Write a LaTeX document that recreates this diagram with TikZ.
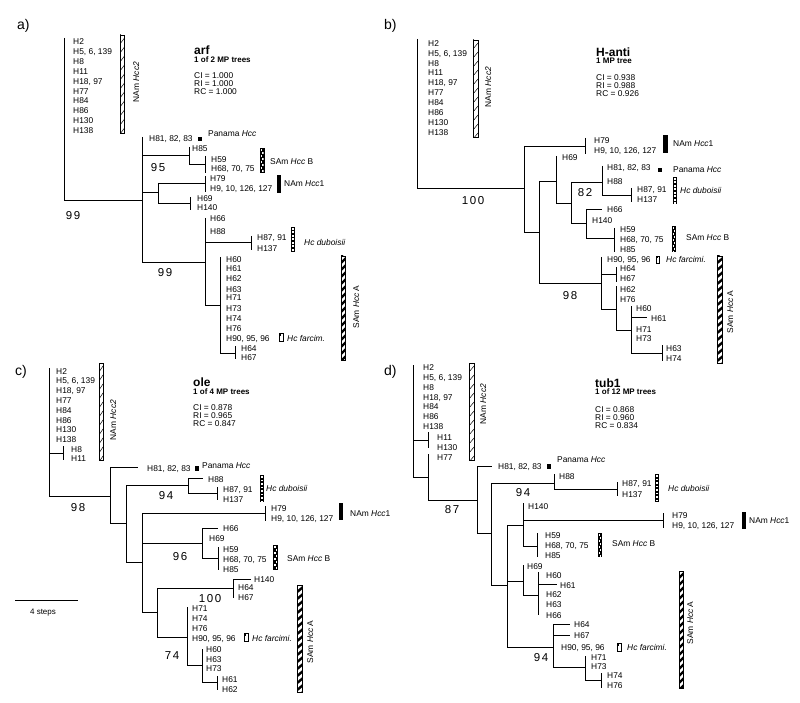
\documentclass[tikz,border=0pt]{standalone}
\usepackage{fontspec}
\setmainfont{Liberation Sans}
\newfontfamily\bsfont[LetterSpace=14]{Liberation Sans}
\newcommand\tx[4][lab]{\node[#1] (#2) at (#3) {#4};}
\newcommand\barthin[4]{%
 \begin{scope}
 \clip (#1,#2) rectangle (#3,#4);
 \foreach \d in {0,9,...,180} {\draw[line width=0.5pt] (#1,#2+\d) -- (#3,#2+\d-6);}
 \end{scope}
 \draw[line width=0.6pt] (#1,#2) rectangle (#3,#4);}
\newcommand\barthick[4]{%
 \begin{scope}
 \clip (#1,#2) rectangle (#3,#4);
 \foreach \d in {0,7,...,140} {\draw[line width=2.4pt] (#1-1,#2+\d+1) -- (#3+1,#2+\d-5);}
 \end{scope}
 \draw[line width=0.6pt] (#1,#2) rectangle (#3,#4);}
\newcommand\barcheck[4]{%
 \fill (#1,#2) rectangle (#3,#4);
 \begin{scope}
 \clip (#1+0.8,#2+0.8) rectangle (#3-0.8,#4-0.8);
 \foreach \d in {0,6,...,36} {\fill[white] (#1+0.8,#2+\d+1) rectangle ({(#1+#3)/2},#2+\d+3.2);
   \fill[white] ({(#1+#3)/2},#2+\d+4) rectangle (#3-0.8,#2+\d+6.2);}
 \end{scope}}
\newcommand\barladder[4]{%
 \fill (#1,#2) rectangle (#3,#4);
 \begin{scope}
 \clip (#1,#2) rectangle (#3,#4);
 \foreach \d in {0,3.5,...,35} {\fill[white] (#1+1,#2+\d+1) rectangle (#3-1,#2+\d+2.6);}
 \end{scope}}
\newcommand\barsolid[4]{\fill (#1,#2) rectangle (#3,#4);}
\newcommand\barfarc[4]{\draw[line width=0.6pt,fill=white] (#1,#2) rectangle (#3,#4);
 \fill (#1+0.8,#2+1) rectangle (#1+1.8,#2+2.5);}
\begin{document}
\begin{tikzpicture}[x=1pt,y=-1pt,
 br/.style={line width=0.7pt},
 lab/.style={font=\fontsize{8.4}{9}\selectfont, anchor=west, inner sep=0pt, text height=6pt, text depth=0pt},
 rlab/.style={lab, rotate=90, anchor=center},
 ttl/.style={font=\bfseries\fontsize{12}{12}\selectfont, anchor=west, inner sep=0pt, text height=8.6pt, text depth=0pt},
 sub/.style={font=\bfseries\fontsize{8}{8}\selectfont, anchor=west, inner sep=0pt, text height=5.7pt, text depth=0pt},
 stat/.style={lab},
 bs/.style={font=\bsfont\fontsize{11.5}{12}\selectfont, anchor=center, inner sep=0pt, text height=8.2pt, text depth=0pt},
 pl/.style={font=\fontsize{14}{14}\selectfont, anchor=west, inner sep=0pt, text height=10pt, text depth=0pt}]
\useasboundingbox (0,0) rectangle (800,703);
\fill[white] (0,0) rectangle (800,703);

%%%%%%%%%%%%%%%% panel a
\tx[pl]{pa}{17,25}{a)}
\draw[br] (64,38) -- (64,200) -- (142,200);
\draw[br] (142,137) -- (142,262);
\draw[br] (142,155) -- (189,155);
\draw[br] (189,147) -- (189,164) -- (205,164);
\draw[br] (205,156) -- (205,173);
\draw[br] (142,192) -- (158,192);
\draw[br] (158,183) -- (158,203) -- (190,203);
\draw[br] (158,183) -- (205,183);
\draw[br] (205,176) -- (205,192);
\draw[br] (190,197) -- (190,210);
\draw[br] (142,262) -- (205,262);
\draw[br] (205,218) -- (205,305) -- (220,305);
\draw[br] (205,242) -- (251,242);
\draw[br] (251,236) -- (251,250);
\draw[br] (220,257) -- (220,353) -- (235,353);
\draw[br] (235,346) -- (235,359);

\tx{a1}{73,42}{H2}
\tx{a2}{73,52}{H5, 6, 139}
\tx{a3}{73,62}{H8}
\tx{a4}{73,72}{H11}
\tx{a5}{73,82}{H18, 97}
\tx{a6}{73,92}{H77}
\tx{a7}{73,101}{H84}
\tx{a8}{73,111}{H86}
\tx{a9}{73,121}{H130}
\tx{a10}{73,131}{H138}
\barthin{120}{35}{124.5}{133}
\tx[rlab]{aNA2}{136,82}{NAm \textit{Hcc2}}
\tx[ttl]{aT}{194,50}{arf}
\tx[sub]{aT2}{194,60}{1 of 2 MP trees}
\tx{aCI}{194,76}{CI = 1.000}
\tx{aRI}{194,84}{RI = 1.000}
\tx{aRC}{194,92}{RC = 1.000}
\tx{a11}{149,139}{H81, 82, 83}
\barsolid{198}{137}{202}{141}
\tx{aPan}{208,134}{Panama \textit{Hcc}}
\tx{a12}{192,149}{H85}
\tx{a13}{211,160}{H59}
\tx{a14}{211,169}{H68, 70, 75}
\tx[bs]{ab95}{158,167}{95}
\barcheck{260}{148}{264.5}{173}
\tx{aSB}{270,162}{SAm \textit{Hcc} B}
\tx{a15}{210,179}{H79}
\tx{a16}{210,189}{H9, 10, 126, 127}
\barsolid{277}{175}{281}{193}
\tx{aNA1}{284,184}{NAm \textit{Hcc}1}
\tx{a17}{197,199}{H69}
\tx{a18}{197,208}{H140}
\tx[bs]{ab99a}{73,215}{99}
\tx{a19}{210,219}{H66}
\tx{a20}{210,232}{H88}
\tx{a21}{257,238}{H87, 91}
\tx{a22}{257,249}{H137}
\barladder{291}{227}{295}{252}
\tx{aDub}{304,243}{\textit{Hc duboisii}}
\tx[bs]{ab99b}{165,272}{99}
\tx{a23}{226,259}{H60}
\tx{a24}{226,269}{H61}
\tx{a25}{226,279}{H62}
\tx{a26}{226,289}{H63}
\tx{a27}{226,298}{H71}
\tx{a28}{226,308}{H73}
\tx{a29}{226,318}{H74}
\tx{a30}{226,328}{H76}
\tx{a31}{226,338}{H90, 95, 96}
\tx{a32}{241,348}{H64}
\tx{a33}{241,357}{H67}
\barfarc{279}{333}{283}{341}
\tx{aFar}{287,338}{\textit{Hc farcim.}}
\barthick{341}{256}{345}{360}
\tx[rlab]{aSA}{356,307}{SAm \textit{Hcc} A}

%%%%%%%%%%%%%%%% panel b
\tx[pl]{pb}{384,25}{b)}
\draw[br] (417,39) -- (417,188) -- (524,188);
\draw[br] (524,146) -- (524,232) -- (539,232);
\draw[br] (524,146) -- (585,146);
\draw[br] (585,138) -- (585,154);
\draw[br] (539,181) -- (539,283) -- (601,283);
\draw[br] (539,181) -- (556,181);
\draw[br] (556,156) -- (556,203) -- (571,203);
\draw[br] (571,182) -- (571,223) -- (586,223);
\draw[br] (571,182) -- (602,182);
\draw[br] (602,166) -- (602,195) -- (631,195);
\draw[br] (631,188) -- (631,202);
\draw[br] (586,209) -- (586,238) -- (614,238);
\draw[br] (586,209) -- (602,209);
\draw[br] (614,228) -- (614,252);
\draw[br] (601,257) -- (601,309) -- (616,309);
\draw[br] (601,274) -- (616,274);
\draw[br] (616,267) -- (616,282);
\draw[br] (616,286) -- (616,330) -- (631,330);
\draw[br] (631,306) -- (631,353) -- (662,353);
\draw[br] (631,317) -- (647,317);
\draw[br] (662,345) -- (662,361);

\tx{b1}{428,44}{H2}
\tx{b2}{428,54}{H5, 6, 139}
\tx{b3}{428,64}{H8}
\tx{b4}{428,73}{H11}
\tx{b5}{428,83}{H18, 97}
\tx{b6}{428,93}{H77}
\tx{b7}{428,103}{H84}
\tx{b8}{428,113}{H86}
\tx{b9}{428,123}{H130}
\tx{b10}{428,133}{H138}
\barthin{473}{40}{478}{137}
\tx[rlab]{bNA2}{488,87}{NAm \textit{Hcc2}}
\tx[ttl]{bT}{596,52}{H-anti}
\tx[sub]{bT2}{596,61}{1 MP tree}
\tx{bCI}{596,78}{CI = 0.938}
\tx{bRI}{596,86}{RI = 0.988}
\tx{bRC}{596,94}{RC = 0.926}
\tx{b11}{594,141}{H79}
\tx{b12}{594,151}{H9, 10, 126, 127}
\barsolid{663}{135}{668}{153}
\tx{bNA1}{673,144}{NAm \textit{Hcc}1}
\tx[bs]{bb100}{473,200}{100}
\tx{b13}{562,158}{H69}
\tx{b14}{607,168}{H81, 82, 83}
\tx{b15}{607,182}{H88}
\barsolid{658}{168}{662}{172}
\tx{bPan}{673,170}{Panama \textit{Hcc}}
\tx{b16}{637,190}{H87, 91}
\tx{b17}{637,200}{H137}
\tx[bs]{bb82}{585,192}{82}
\barladder{673}{177}{677}{204}
\tx{bDub}{680,191}{\textit{Hc duboisii}}
\tx{b18}{607,210}{H66}
\tx{b19}{592,221}{H140}
\tx{b20}{620,230}{H59}
\tx{b21}{620,240}{H68, 70, 75}
\tx{b22}{620,250}{H85}
\barcheck{672}{226}{676}{252}
\tx{bSB}{686,238}{SAm \textit{Hcc} B}
\tx[bs]{bb98}{570,295}{98}
\tx{b23}{607,259}{H90, 95, 96}
\barfarc{656}{256}{659.5}{263}
\tx{bFar}{666,259}{\textit{Hc farcimi.}}
\tx{b24}{620,269}{H64}
\tx{b25}{620,279}{H67}
\tx{b26}{620,289}{H62}
\tx{b27}{620,299}{H76}
\tx{b28}{636,308}{H60}
\tx{b29}{651,318}{H61}
\tx{b30}{636,329}{H71}
\tx{b31}{636,338}{H73}
\tx{b32}{666,348}{H63}
\tx{b33}{666,358}{H74}
\barthick{717}{256}{722}{363}
\tx[rlab]{bSA}{730,312}{SAm \textit{Hcc} A}

%%%%%%%%%%%%%%%% panel c
\tx[pl]{pc}{15,370}{c)}
\draw[br] (49,368) -- (49,496) -- (110,496);
\draw[br] (49,453) -- (63,453);
\draw[br] (63,446) -- (63,460);
\draw[br] (110,467) -- (110,523) -- (126,523);
\draw[br] (110,467) -- (138,467);
\draw[br] (126,485) -- (126,562) -- (142,562);
\draw[br] (126,485) -- (188,485);
\draw[br] (188,478) -- (188,493) -- (217,493);
\draw[br] (188,478) -- (203,478);
\draw[br] (217,487) -- (217,500);
\draw[br] (142,513) -- (142,612) -- (157,612);
\draw[br] (142,513) -- (265,513);
\draw[br] (265,506) -- (265,521);
\draw[br] (142,543) -- (202,543);
\draw[br] (202,528) -- (202,558) -- (218,558);
\draw[br] (202,528) -- (218,528);
\draw[br] (218,547) -- (218,570);
\draw[br] (157,588) -- (157,637) -- (187,637);
\draw[br] (157,588) -- (233,588);
\draw[br] (233,579) -- (233,598);
\draw[br] (233,579) -- (251,579);
\draw[br] (187,607) -- (187,665) -- (202,665);
\draw[br] (202,649) -- (202,682) -- (217,682);
\draw[br] (217,676) -- (217,690);

\tx{c1}{56,371}{H2}
\tx{c2}{56,380}{H5, 6, 139}
\tx{c3}{56,390}{H18, 97}
\tx{c4}{56,400}{H77}
\tx{c5}{56,410}{H84}
\tx{c6}{56,420}{H86}
\tx{c7}{56,429}{H130}
\tx{c8}{56,439}{H138}
\tx{c9}{71,449}{H8}
\tx{c10}{71,458}{H11}
\barthin{99}{363}{103}{460}
\tx[rlab]{cNA2}{113,420}{NAm \textit{Hcc2}}
\tx[ttl]{cT}{193,382}{ole}
\tx[sub]{cT2}{193,392}{1 of 4 MP trees}
\tx{cCI}{193,407}{CI = 0.878}
\tx{cRI}{193,415}{RI = 0.965}
\tx{cRC}{193,423}{RC = 0.847}
\tx[bs]{cb98}{78,507}{98}
\tx{c11}{147,468}{H81, 82, 83}
\barsolid{195}{466}{199}{471}
\tx{cPan}{202,465}{Panama \textit{Hcc}}
\tx{c12}{208,479}{H88}
\tx{c13}{223,489}{H87, 91}
\tx{c14}{223,499}{H137}
\tx[bs]{cb94}{166,495}{94}
\barladder{260}{475}{264}{502}
\tx{cDub}{266,488}{\textit{Hc duboisii}}
\tx{c15}{271,508}{H79}
\tx{c16}{271,518}{H9, 10, 126, 127}
\barsolid{339}{503}{343}{520}
\tx{cNA1}{350,513}{NAm \textit{Hcc}1}
\tx{c17}{223,528}{H66}
\tx{c18}{209,538}{H69}
\tx{c19}{223,549}{H59}
\tx{c20}{223,559}{H68, 70, 75}
\tx{c21}{223,569}{H85}
\tx[bs]{cb96}{180,556}{96}
\barcheck{273}{545}{278}{570}
\tx{cSB}{287,558}{SAm \textit{Hcc} B}
\tx{c22}{254,579}{H140}
\tx{c23}{238,587}{H64}
\tx{c24}{238,597}{H67}
\tx[bs]{cb100}{210,598}{100}
\tx{c25}{192,608}{H71}
\tx{c26}{192,618}{H74}
\tx{c27}{192,628}{H76}
\tx{c28}{192,638}{H90, 95, 96}
\barfarc{244}{633}{248}{641}
\tx{cFar}{252,638}{\textit{Hc farcimi.}}
\tx[bs]{cb74}{172,655}{74}
\tx{c29}{206,649}{H60}
\tx{c30}{206,659}{H63}
\tx{c31}{206,668}{H73}
\tx{c32}{222,679}{H61}
\tx{c33}{222,689}{H62}
\barthick{297}{585}{302}{692}
\tx[rlab]{cSA}{310,642}{SAm \textit{Hcc} A}
\coordinate (sbL) at (15,600);
\coordinate (sbR) at (78,600);
\draw[br] (sbL) -- (sbR);
\node[lab, anchor=center, font=\fontsize{8}{8}\selectfont] (sbT) at (43,611) {4 steps};

%%%%%%%%%%%%%%%% panel d
\tx[pl]{pd}{384,370}{d)}
\draw[br] (413,365) -- (413,477) -- (428,477);
\draw[br] (413,440) -- (428,440);
\draw[br] (428,432) -- (428,448);
\draw[br] (428,454) -- (428,500) -- (477,500);
\draw[br] (477,466) -- (477,533) -- (491,533);
\draw[br] (477,466) -- (492,466);
\draw[br] (491,483) -- (491,585) -- (507,585);
\draw[br] (491,483) -- (554,483);
\draw[br] (554,474) -- (554,489) -- (617,489);
\draw[br] (617,482) -- (617,496);
\draw[br] (507,525) -- (507,647) -- (553,647);
\draw[br] (507,525) -- (523,525);
\draw[br] (523,503) -- (523,546) -- (537,546);
\draw[br] (523,520) -- (663,520);
\draw[br] (663,513) -- (663,528);
\draw[br] (537,533) -- (537,557);
\draw[br] (507,581) -- (523,581);
\draw[br] (523,565) -- (523,595) -- (538,595);
\draw[br] (538,572) -- (538,615);
\draw[br] (538,584) -- (557,584);
\draw[br] (553,624) -- (553,667) -- (585,667);
\draw[br] (553,624) -- (570,624);
\draw[br] (553,635) -- (570,635);
\draw[br] (585,656) -- (585,680) -- (601,680);
\draw[br] (601,673) -- (601,688);

\tx{d1}{423,367}{H2}
\tx{d2}{423,377}{H5, 6, 139}
\tx{d3}{423,387}{H8}
\tx{d4}{423,397}{H18, 97}
\tx{d5}{423,406}{H84}
\tx{d6}{423,416}{H86}
\tx{d7}{423,426}{H138}
\tx{d8}{437,437}{H11}
\tx{d9}{437,447}{H130}
\tx{d10}{437,457}{H77}
\barthin{469}{363}{474}{460}
\tx[rlab]{dNA2}{483,404}{NAm \textit{Hcc2}}
\tx[ttl]{dT}{595,383}{tub1}
\tx[sub]{dT2}{595,392}{1 of 12 MP trees}
\tx{dCI}{595,409}{CI = 0.868}
\tx{dRI}{595,417}{RI = 0.960}
\tx{dRC}{595,425}{RC = 0.834}
\tx[bs]{db87}{452,509}{87}
\tx{d11}{498,466}{H81, 82, 83}
\barsolid{547}{464}{551}{469}
\tx{dPan}{557,459}{Panama \textit{Hcc}}
\tx{d12}{559,476}{H88}
\tx{d13}{622,483}{H87, 91}
\tx{d14}{622,494}{H137}
\tx[bs]{db94a}{523,492}{94}
\barladder{655}{474}{659}{502}
\tx{dDub}{668,488}{\textit{Hc duboisii}}
\tx{d15}{528,506}{H140}
\tx{d16}{672,515}{H79}
\tx{d17}{672,525}{H9, 10, 126, 127}
\barsolid{742}{512}{746}{529}
\tx{dNA1}{749,520}{NAm \textit{Hcc}1}
\tx{d18}{545,535}{H59}
\tx{d19}{545,545}{H68, 70, 75}
\tx{d20}{545,555}{H85}
\barcheck{598}{533}{602}{557}
\tx{dSB}{612,543}{SAm \textit{Hcc} B}
\tx{d21}{527,566}{H69}
\tx{d22}{546,575}{H60}
\tx{d23}{560,585}{H61}
\tx{d24}{546,594}{H62}
\tx{d25}{546,604}{H63}
\tx{d26}{546,615}{H66}
\tx[bs]{db94b}{541,657}{94}
\tx{d27}{574,624}{H64}
\tx{d28}{574,635}{H67}
\tx{d29}{561,647}{H90, 95, 96}
\barfarc{617}{643}{621}{651}
\tx{dFar}{627,647}{\textit{Hc farcimi.}}
\tx{d30}{591,657}{H71}
\tx{d31}{591,666}{H73}
\tx{d32}{607,675}{H74}
\tx{d33}{607,685}{H76}
\barthick{679}{571}{683}{688}
\tx[rlab]{dSA}{690,623}{SAm \textit{Hcc} A}
\end{tikzpicture}
\end{document}
